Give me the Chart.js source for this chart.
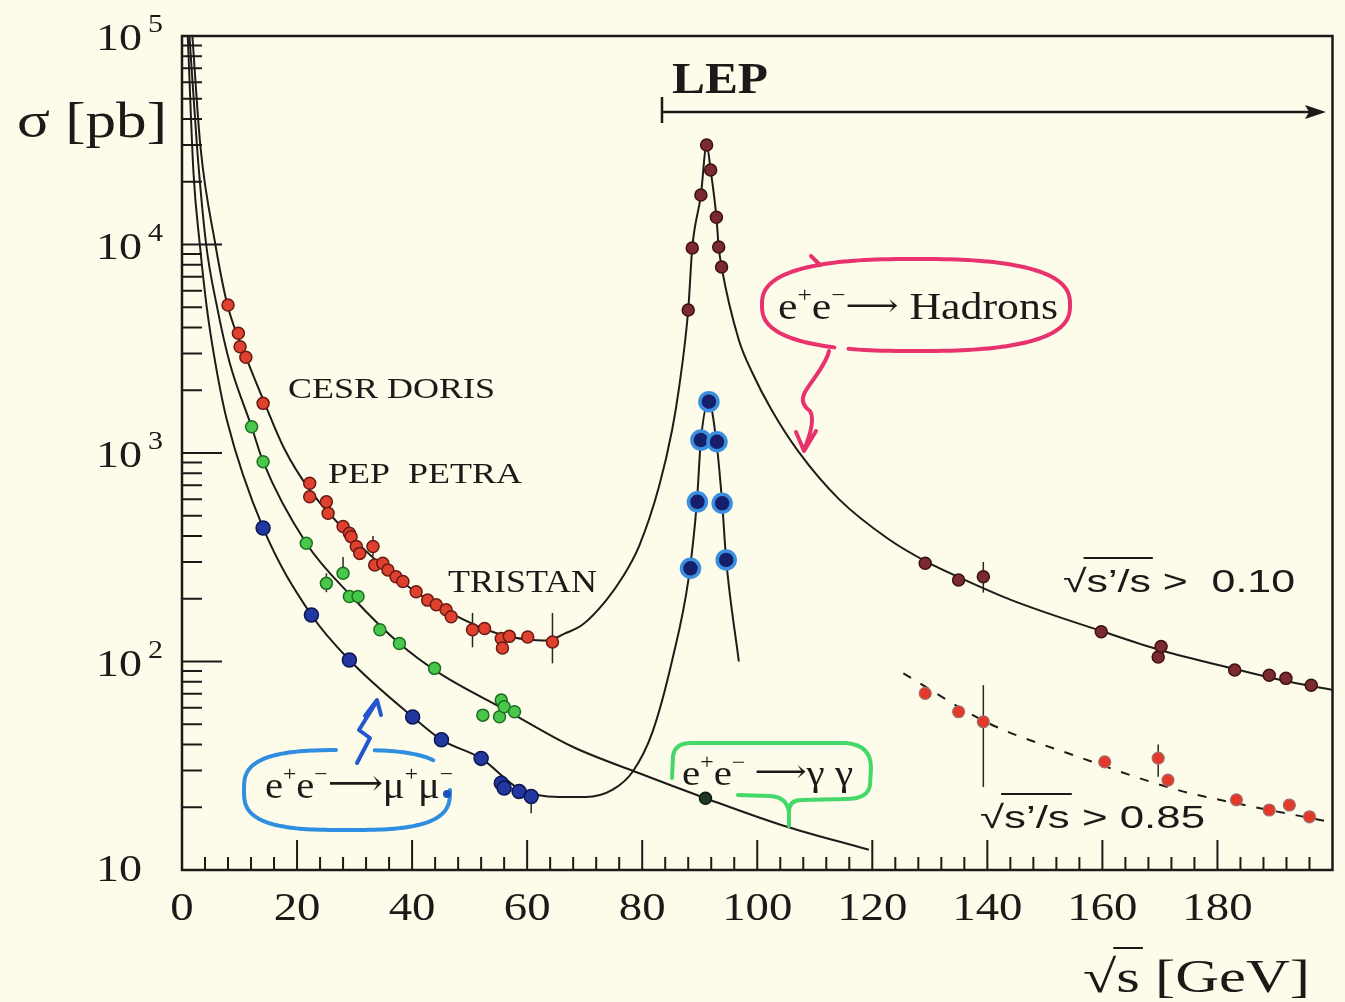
<!DOCTYPE html>
<html>
<head>
<meta charset="utf-8">
<title>e+e- cross sections</title>
<script src="https://cdn.jsdelivr.net/npm/chart.js@4.4.1/dist/chart.umd.min.js"></script>
<style>
  html, body { margin: 0; padding: 0; background: #fdfbe9; }
  canvas { display: block; }
</style>
</head>
<body>
<canvas id="xsec" width="1345" height="1002"></canvas>
<script>
// --- values (sqrt(s) in GeV, sigma in pb) ---

// e+e- -> hadrons, theory curve
const hadCurveX = [1.8, 3.2, 5.8, 7.9, 11.1, 14.2, 17.9, 22.2, 29.4, 37.8, 46.5, 55.2, 60.4, 63.5, 66.5, 69.6, 73.7, 76.6, 79.5, 82.9, 85.2, 86.4, 88.0, 88.7, 90.2, 91.2, 91.9, 92.9, 93.3, 93.8, 96.8, 99.1, 102.5, 107.2, 114.2, 122.8, 129.8, 135.0, 144.2, 159.8, 170.0, 183.0, 191.0, 200.0];
const hadCurveY = [100000, 29600, 10000, 5130, 2900, 1780, 1033, 665, 397, 246, 172, 135, 127, 126, 136, 150, 196, 254, 360, 687, 1290, 2050, 4850, 9620, 17260, 30000, 22760, 13520, 9730, 7800, 3480, 2440, 1607, 1012, 601, 387, 297, 254, 197, 140, 113.5, 92, 81.5, 73];

// hadrons, low energy data (CESR, DORIS, PEP, PETRA, TRISTAN)
const hadLowX = [8.0, 9.8, 10.1, 11.1, 14.1, 22.2, 22.2, 25.1, 25.4, 28.0, 29.1, 29.4, 30.3, 30.9, 33.2, 33.5, 34.9, 35.8, 37.2, 38.4, 40.7, 42.7, 44.2, 45.9, 46.8, 50.5, 52.6, 55.5, 55.7, 56.9, 60.1, 64.4];
const hadLowY = [5130, 3750, 3236, 2878, 1730, 716, 617, 583, 514, 444, 412, 397, 356, 330, 356, 290, 296, 275, 255, 242, 216, 197, 187, 177, 164, 142, 144, 129, 116, 132, 131, 124];

// hadrons at the Z pole (LEP)
const hadZX = [88.0, 88.7, 90.2, 91.2, 91.9, 92.9, 93.3, 93.8];
const hadZY = [4850, 9620, 17260, 30000, 22760, 13520, 9730, 7800];

// hadrons above the Z, sqrt(s'/s) > 0.10
const hadHiX = [129.2, 135.0, 139.3, 159.8, 169.7, 170.2, 183.0, 189.0, 191.9, 196.3];
const hadHiY = [296, 246, 255, 139, 105, 118, 91, 86, 83, 77];

// hadrons above the Z, sqrt(s'/s) > 0.85 (dashed curve + points)
const excCurveX = [125.4, 140.2, 155.8, 173.1, 184.7, 199.2];
const excCurveY = [87.8, 50.6, 34.9, 24.2, 20.5, 17.1];
const excX = [129.2, 135.0, 139.3, 160.4, 169.7, 171.4, 183.3, 189.0, 192.5, 196.0];
const excY = [70.3, 57.4, 51.4, 33.0, 34.4, 27.0, 21.7, 19.4, 20.5, 18.0];

// e+e- -> mu+ mu-
const muCurveX = [1.0, 2.0, 3.1, 4.3, 5.8, 7.8, 14.1, 22.5, 29.1, 40.1, 45.1, 52.0, 58.6, 65.6, 70.2, 74.8, 78.3, 81.8, 85.2, 88.1, 89.5, 90.2, 91.6, 92.9, 93.9, 94.6, 96.8];
const muCurveY = [100000, 22000, 10000, 5010, 2700, 1440, 437, 167, 101.6, 54.2, 42.1, 34.3, 24.5, 22.4, 22.4, 24.2, 29.5, 46, 101, 254, 580, 1150, 1760, 1130, 575, 307, 100];
const muLowX = [14.1, 22.5, 29.1, 40.1, 45.1, 52.0, 55.5, 56.0, 58.6, 60.7];
const muLowY = [437, 167, 101.6, 54.2, 42.1, 34.3, 26.1, 24.7, 23.8, 22.5];
const muZX = [88.4, 89.6, 90.2, 91.6, 93.0, 93.9, 94.6];
const muZY = [280, 583, 1153, 1762, 1132, 574, 307];

// e+e- -> gamma gamma
const ggCurveX = [1.3, 2.6, 4.2, 6.1, 8.3, 12.1, 14.1, 21.6, 29.5, 37.8, 44.8, 56.3, 67.9, 79.5, 91.0, 104.3, 119.4];
const ggCurveY = [100000, 29600, 10000, 5010, 2700, 1336, 908, 369, 205, 122, 87.7, 58.5, 39.0, 29.1, 22.1, 16.4, 12.5];
const ggX = [12.1, 14.1, 21.6, 25.1, 28.0, 29.1, 30.6, 34.4, 37.8, 43.9, 52.3, 55.2, 55.5, 56.0, 57.8];
const ggY = [1336, 908, 369, 237, 265, 205, 205, 142, 122, 92.7, 55.3, 54.3, 65.3, 60.7, 57.4];
const ggLepX = [91.0];
const ggLepY = [22.1];

// vertical error bars
const errX  = [22.2, 33.2, 50.5, 64.4, 25.1, 28.0, 60.7, 139.3, 139.3, 169.7];
const errLo = [590, 320, 117, 98, 215, 250, 18.7, 214, 25, 28];
const errHi = [760, 400, 171, 171, 265, 317, 22.5, 300, 77, 40];

// axis ticks
const xTickLabels = [0, 20, 40, 60, 80, 100, 120, 140, 160, 180];
const xMinorStep = 4;
const yDecades = [1, 2, 3, 4, 5];

const SERIF = '"Liberation Serif", "DejaVu Serif", "DejaVu Sans", serif';
const SANS = '"Liberation Sans", "DejaVu Sans", sans-serif';
const INK = '#1c1a18';

const pts = (xs, ys) => xs.map((x, i) => ({ x, y: ys[i] }));

function curve(xs, ys, extra) {
  return Object.assign({
    data: pts(xs, ys),
    borderColor: '#1e1c1a',
    borderWidth: 2,
    pointRadius: 0,
    cubicInterpolationMode: 'monotone',
    fill: false,
    order: 5
  }, extra || {});
}

function marks(xs, ys, fill, border, r, bw) {
  return {
    data: pts(xs, ys),
    showLine: false,
    pointRadius: r,
    pointBackgroundColor: fill,
    pointBorderColor: border,
    pointBorderWidth: bw,
    order: 1
  };
}

// draw a row of text pieces, squeezed/stretched to a given width
function drawRuns(ctx, runs, x, y, width, family, weight) {
  const w = runs.map(r => {
    ctx.font = `${weight || ''} ${r[1]}px ${family}`;
    return ctx.measureText(r[0]).width;
  });
  const total = w.reduce((a, b) => a + b, 0);
  const sx = width ? width / total : 1;
  const spans = [];
  ctx.save();
  ctx.translate(x, y);
  ctx.scale(sx, 1);
  let cx = 0;
  runs.forEach((r, i) => {
    ctx.font = `${weight || ''} ${r[1]}px ${family}`;
    ctx.fillText(r[0], cx, r[2]);
    spans.push([x + cx * sx, x + (cx + w[i]) * sx]);
    cx += w[i];
  });
  ctx.restore();
  return spans;
}

function superArc(ctx, cx, cy, rx, ry, n, a0, a1) {
  ctx.beginPath();
  for (let a = a0; a <= a1; a += 2) {
    const t = a * Math.PI / 180, c = Math.cos(t), s = Math.sin(t);
    const px = cx + rx * Math.sign(c) * Math.pow(Math.abs(c), 2 / n);
    const py = cy + ry * Math.sign(s) * Math.pow(Math.abs(s), 2 / n);
    if (a === a0) ctx.moveTo(px, py); else ctx.lineTo(px, py);
  }
  ctx.stroke();
}

function rootLabel(ctx, after, x, y, width, size, family, barUp) {
  const spans = drawRuns(ctx, [['\u221A', size, 0], ['s\u2019/s', size, 0], [after, size, 0]], x, y, width, family);
  ctx.beginPath();
  ctx.moveTo(spans[0][1] - 3, y - barUp);
  ctx.lineTo(spans[1][1] + 2, y - barUp);
  ctx.stroke();
}

const decor = {
  id: 'decor',
  beforeDraw(chart) {
    const ctx = chart.ctx;
    ctx.save();
    ctx.fillStyle = '#fdfbe9';
    ctx.fillRect(0, 0, chart.width, chart.height);
    ctx.restore();
  },
  beforeDatasetsDraw(chart) {
    const { ctx, scales: { x, y } } = chart;
    ctx.save();
    ctx.strokeStyle = '#2a2622';
    ctx.lineWidth = 1.5;
    errX.forEach((v, i) => {
      const px = x.getPixelForValue(v);
      ctx.beginPath();
      ctx.moveTo(px, y.getPixelForValue(errLo[i]));
      ctx.lineTo(px, y.getPixelForValue(errHi[i]));
      ctx.stroke();
    });
    ctx.restore();
  },
  afterDraw(chart) {
    const { ctx, chartArea: a, scales: { x, y } } = chart;
    ctx.save();
    ctx.strokeStyle = INK;
    ctx.fillStyle = INK;

    // frame
    ctx.lineWidth = 2.5;
    ctx.strokeRect(a.left, a.top, a.right - a.left, a.bottom - a.top);

    // inward ticks
    ctx.lineWidth = 2;
    ctx.beginPath();
    for (let v = xMinorStep; v < x.max; v += xMinorStep) {
      const px = x.getPixelForValue(v);
      ctx.moveTo(px, a.bottom);
      ctx.lineTo(px, a.bottom - (v % 20 === 0 ? 30 : 13));
    }
    yDecades.slice(0, -1).forEach(d => {
      for (let m = 1; m <= 9; m++) {
        if (d === 1 && m === 1) continue;
        const py = y.getPixelForValue(m * Math.pow(10, d));
        ctx.moveTo(a.left, py);
        ctx.lineTo(a.left + (m === 1 ? 40 : 20), py);
      }
    });
    ctx.stroke();

    // tick labels
    ctx.textBaseline = 'alphabetic';
    xTickLabels.forEach(v => {
      const px = x.getPixelForValue(v);
      ctx.font = `39px ${SERIF}`;
      const w = ctx.measureText(String(v)).width * 1.2;
      drawRuns(ctx, [[String(v), 39, 0]], px - w / 2, 920, w, SERIF);
    });
    yDecades.forEach(d => {
      const py = y.getPixelForValue(Math.pow(10, d));
      if (d === 1) {
        drawRuns(ctx, [['10', 37, 0]], 96, py + 11, 46, SERIF);
      } else {
        drawRuns(ctx, [['10', 37, 0]], 96, py + 14, 46, SERIF);
        drawRuns(ctx, [[String(d), 25, 0]], 148, py - 4, 15, SERIF);
      }
    });

    // axis titles
    drawRuns(ctx, [['\u03C3 [pb]', 50, 0]], 17, 137, 150, SERIF);
    const t = drawRuns(ctx, [['\u221A', 46, 0], ['s', 46, 0], [' [GeV]', 46, 0]], 1083, 992, 227, SERIF);
    ctx.lineWidth = 2;
    ctx.beginPath();
    ctx.moveTo(t[0][1] - 3, 992 - 44);
    ctx.lineTo(t[1][1] + 3, 992 - 44);
    ctx.stroke();

    // LEP range marker
    drawRuns(ctx, [['LEP', 44, 0]], 672, 93, 96, SERIF, 'bold');
    ctx.lineWidth = 2.5;
    ctx.beginPath();
    ctx.moveTo(662, 97); ctx.lineTo(662, 123);
    ctx.moveTo(662, 112); ctx.lineTo(1318, 112);
    ctx.stroke();
    ctx.beginPath();
    ctx.moveTo(1326, 112); ctx.lineTo(1305, 105); ctx.lineTo(1309, 112); ctx.lineTo(1305, 119);
    ctx.closePath();
    ctx.fill();

    // experiment labels
    drawRuns(ctx, [['CESR DORIS', 30, 0]], 288, 398, 207, SERIF);
    drawRuns(ctx, [['PEP  PETRA', 30, 0]], 328, 483, 194, SERIF);
    drawRuns(ctx, [['TRISTAN', 31, 0]], 448, 592, 149, SERIF);

    // s'/s cut labels
    ctx.lineWidth = 2;
    rootLabel(ctx, ' >  0.10', 1063, 592, 232, 32, SANS, 34);
    rootLabel(ctx, ' > 0.85', 980, 828, 225, 32, SANS, 34);

    // hand drawn bubbles
    ctx.lineCap = 'round';
    ctx.lineJoin = 'round';

    // hadrons (pink)
    ctx.strokeStyle = '#e8326e';
    ctx.lineWidth = 4;
    superArc(ctx, 916, 305, 154, 46, 2.6, 116, 470);
    ctx.beginPath();
    ctx.moveTo(811, 256); ctx.lineTo(820, 265);
    ctx.moveTo(829, 351);
    ctx.bezierCurveTo(826, 365, 812, 380, 805, 392);
    ctx.quadraticCurveTo(799, 403, 810, 411);
    ctx.quadraticCurveTo(816, 421, 804, 450);
    ctx.moveTo(796, 432); ctx.lineTo(804, 451); ctx.lineTo(816, 431);
    ctx.stroke();
    ctx.fillStyle = INK;
    drawRuns(ctx, [['e', 38, 0], ['+', 22, -17], ['e', 38, 0], ['\u2212', 22, -17], ['\u27F6', 32, -3], [' Hadrons', 38, 0]], 778, 319, 280, SERIF);

    // mu mu (blue)
    ctx.strokeStyle = '#2f8ee0';
    superArc(ctx, 347, 790, 103, 40, 3, 0, 268);
    superArc(ctx, 347, 790, 103, 40, 3, 278, 320);
    ctx.fillStyle = '#1f4fc0';
    ctx.beginPath();
    ctx.arc(447, 794, 4, 0, Math.PI * 2);
    ctx.fill();
    ctx.strokeStyle = '#2456d0';
    ctx.beginPath();
    ctx.moveTo(357, 763); ctx.lineTo(370, 738); ctx.lineTo(359, 730); ctx.lineTo(377, 701);
    ctx.moveTo(365, 716); ctx.lineTo(377, 700); ctx.lineTo(381, 715);
    ctx.stroke();
    ctx.fillStyle = INK;
    drawRuns(ctx, [['e', 38, 0], ['+', 22, -17], ['e', 38, 0], ['\u2212', 22, -17], ['\u27F6', 36, -3], ['\u03BC', 38, 0], ['+', 22, -17], ['\u03BC', 38, 0], ['\u2212', 22, -17]], 265, 798, 188, SERIF);

    // gamma gamma (green)
    ctx.strokeStyle = '#44d86a';
    ctx.beginPath();
    ctx.moveTo(672, 778); ctx.lineTo(673, 756);
    ctx.quadraticCurveTo(675, 743, 691, 743);
    ctx.lineTo(846, 743);
    ctx.quadraticCurveTo(871, 745, 871, 768);
    ctx.lineTo(870, 785);
    ctx.quadraticCurveTo(868, 799, 846, 799);
    ctx.lineTo(801, 800);
    ctx.quadraticCurveTo(789, 800, 789, 812);
    ctx.lineTo(789, 826);
    ctx.moveTo(789, 812);
    ctx.quadraticCurveTo(787, 797, 770, 796);
    ctx.lineTo(738, 795);
    ctx.stroke();
    ctx.fillStyle = INK;
    drawRuns(ctx, [['e', 36, 0], ['+', 21, -16], ['e', 36, 0], ['\u2212', 21, -16], [' \u27F6', 32, -3], ['\u03B3 \u03B3', 36, 0]], 682, 785, 171, SERIF);

    ctx.restore();
  }
};

new Chart(document.getElementById('xsec'), {
  type: 'line',
  data: {
    datasets: [
      marks(muZX, muZY, '#16206a', '#3a8fe0', 9, 3.5),
      marks(hadZX, hadZY, '#7b2b30', '#3b1214', 6, 1.5),
      marks(hadHiX, hadHiY, '#7b2b30', '#3b1214', 6, 1.5),
      marks(excX, excY, '#e3392a', '#a07070', 6, 1.2),
      marks(hadLowX, hadLowY, '#e0402e', '#6a1a14', 6, 1.5),
      marks(ggX, ggY, '#48c84a', '#1e6e22', 6, 1.5),
      marks(ggLepX, ggLepY, '#1f3a22', '#0e1a10', 6, 1.5),
      marks(muLowX, muLowY, '#2337a0', '#0d1650', 7, 1.5),
      curve(hadCurveX, hadCurveY),
      curve(muCurveX, muCurveY),
      curve(ggCurveX, ggCurveY),
      curve(excCurveX, excCurveY, { borderDash: [9, 11] })
    ]
  },
  options: {
    responsive: false,
    animation: false,
    devicePixelRatio: 1,
    layout: { padding: { left: 0, right: 9, top: 36, bottom: 0 } },
    scales: {
      x: {
        type: 'linear',
        min: 0,
        max: 200,
        grid: { display: false },
        border: { display: false },
        ticks: { display: false },
        afterFit(s) { s.height = 132; }
      },
      y: {
        type: 'logarithmic',
        min: 10,
        max: 100000,
        grid: { display: false },
        border: { display: false },
        ticks: { display: false },
        afterFit(s) { s.width = 182; }
      }
    },
    plugins: {
      legend: { display: false },
      tooltip: { enabled: false }
    }
  },
  plugins: [decor]
});
</script>
</body>
</html>
